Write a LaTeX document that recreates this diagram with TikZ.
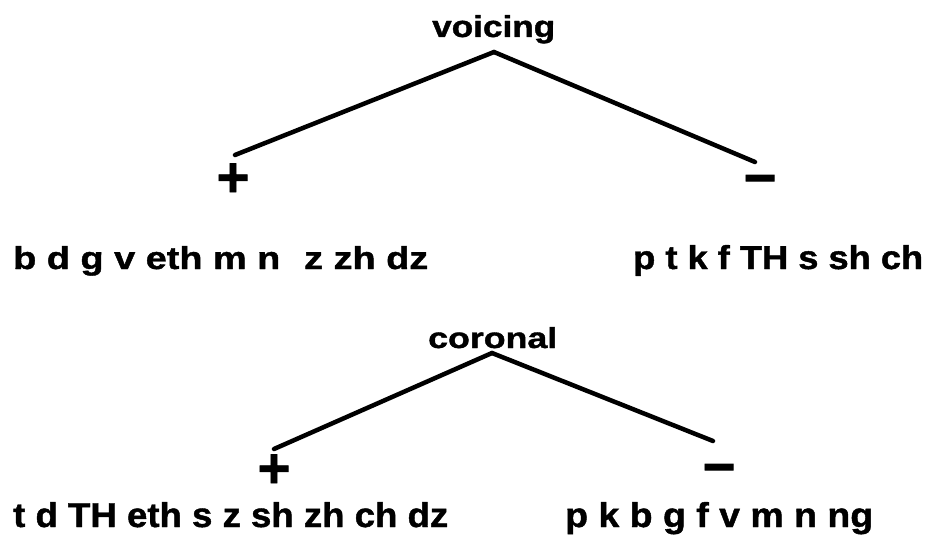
\documentclass[tikz,border=0pt]{standalone}
\usepackage{fontspec}
\usepackage{graphicx}
\setmainfont{Liberation Sans}[BoldFont={* Bold}, BoldFeatures={FakeBold=1.2}]
\tikzset{
  lbl/.style={inner sep=0pt, anchor=base west, font=\bfseries},
  sgn/.style={inner sep=0pt, anchor=center, font=\bfseries},
  branch/.style={line width=4.5pt, line cap=round}
}
\begin{document}
\begin{tikzpicture}[x=1pt,y=-1pt]
\useasboundingbox (0,0) rectangle (929,535);
% top tree
\node[lbl] (voicing) at (432,37) {\resizebox{123pt}{22pt}{voicing}};
\coordinate (apexA) at (494,52);
\node[sgn] (plusA) at (233,180) {\resizebox{33pt}{!}{+}};
\node[sgn] (minusA) at (760,186) {\resizebox{33pt}{!}{\char"2212}};
\coordinate (lA) at (235,155);
\coordinate (rA) at (755,162);
\draw[branch] (apexA) -- (lA);
\draw[branch] (apexA) -- (rA);
\node[lbl] (voiced) at (13,269) {\resizebox{415pt}{23pt}{b d g v eth m n\hspace{0.35em} z zh dz}};
\node[lbl] (voiceless) at (633,269) {\resizebox{290pt}{24pt}{p t k f TH s sh ch}};
% bottom tree
\node[lbl] (coronal) at (428,348) {\resizebox{129pt}{21pt}{coronal}};
\coordinate (apexB) at (492,353);
\node[sgn] (plusB) at (274,471) {\resizebox{33pt}{!}{+}};
\node[sgn] (minusB) at (719,475) {\resizebox{33pt}{!}{\char"2212}};
\coordinate (lB) at (274,449);
\coordinate (rB) at (713,441);
\draw[branch] (apexB) -- (lB);
\draw[branch] (apexB) -- (rB);
\node[lbl] (cor) at (13,527) {\resizebox{435pt}{25pt}{t d TH eth s z sh zh ch dz}};
\node[lbl] (noncor) at (565,527) {\resizebox{308pt}{25pt}{p k b g f v m n ng}};
\end{tikzpicture}
\end{document}
